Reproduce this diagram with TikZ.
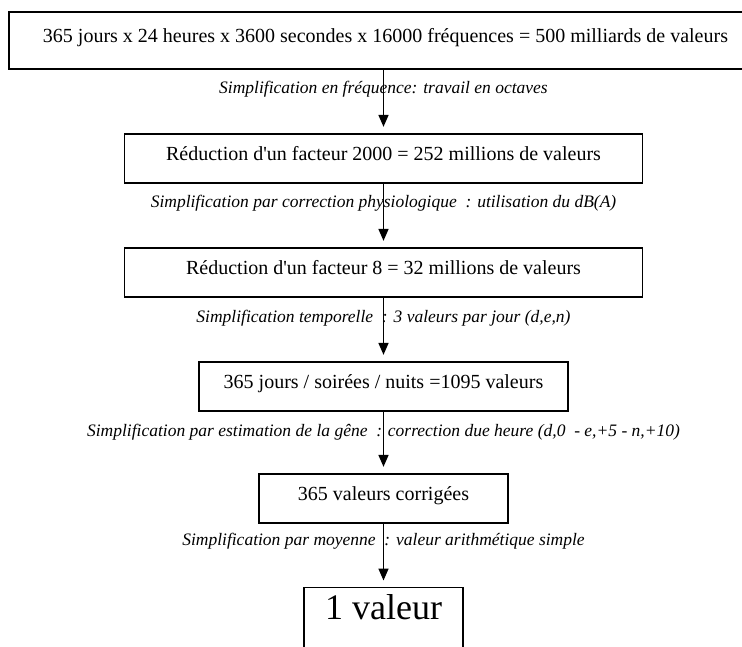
\documentclass[tikz,border=0pt]{standalone}
\usepackage{fontspec}
\setmainfont{Liberation Serif}
\usetikzlibrary{arrows.meta,positioning}

\begin{document}
\begin{tikzpicture}[x=1pt,y=1pt,
  boite/.style={draw,line width=1.3pt,inner sep=0pt,minimum height=49pt,text height=14pt,text depth=11pt,font=\fontsize{20}{24}\selectfont},
  lbl/.style={anchor=base,inner sep=0pt,font=\fontsize{17.5}{21}\selectfont\itshape},
  fleche/.style={line width=1.6pt,-{Triangle[length=12pt,width=10pt]},shorten >=6.5pt}]
\clip (0,0) rectangle (742,-646);
% les boites
\node[boite,minimum width=753pt,minimum height=57pt] (b1) at (385.5,-40.5) {365 jours x 24 heures x 3600 secondes x 16000 fréquences = 500 milliards de valeurs};
\node[boite,minimum width=518pt] (b2) at (383.5,-158.5) {Réduction d\textquotesingle un facteur 2000 = 252 millions de valeurs};
\node[boite,minimum width=518pt] (b3) at (383.5,-272.5) {Réduction d\textquotesingle un facteur 8 = 32 millions de valeurs};
\node[boite,minimum width=369pt] (b4) at (383.5,-386.5) {365 jours / soirées / nuits =1095 valeurs};
\node[boite,minimum width=249pt] (b5) at (383.5,-498.5) {365 valeurs corrigées};
\node[draw,line width=1.3pt,anchor=north,inner sep=7pt,minimum width=159pt,text height=25pt,text depth=60pt,font=\fontsize{36}{40}\selectfont] (b6) at (383.5,-587) {1 valeur};
% les simplifications
\node[lbl] (s1) at (383.5,-93) {Simplification en fréquence: travail en octaves};
\node[lbl] (s2) at (383.5,-207) {Simplification par correction physiologique\ \ : utilisation du dB(A)};
\node[lbl] (s3) at (383.5,-322) {Simplification temporelle\ \ : 3 valeurs par jour (d,e,n)};
\node[lbl] (s4) at (383.5,-436) {Simplification par estimation de la gêne\ \ : correction due heure (d,0\ \ - e,+5 - n,+10)};
\node[lbl] (s5) at (383.5,-545) {Simplification par moyenne\ \ : valeur arithmétique simple};
% fleches
\foreach \a/\b in {b1/b2,b2/b3,b3/b4,b4/b5,b5/b6}
  \draw[fleche] (\a.south -| \b.north) -- (\b.north);
\end{tikzpicture}
\end{document}
